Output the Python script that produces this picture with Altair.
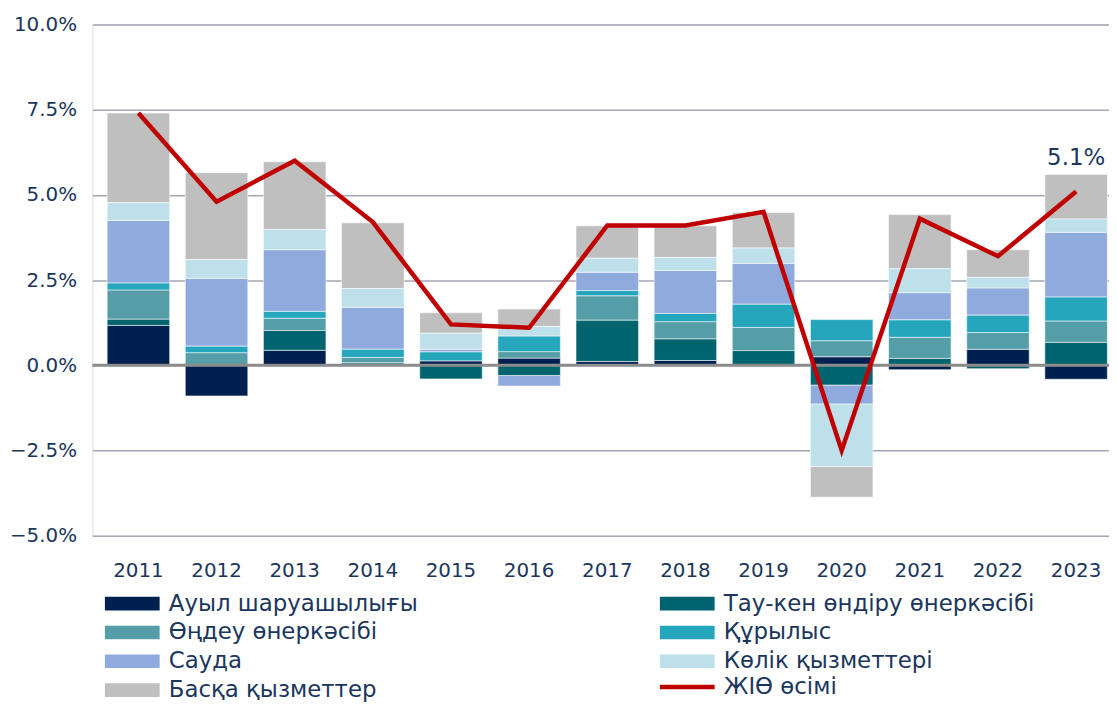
import altair as alt
import pandas as pd

years = [str(y) for y in range(2011, 2024)]
categories = [
    "Ауыл шаруашылығы",
    "Тау-кен өндіру өнеркәсібі",
    "Өңдеу өнеркәсібі",
    "Құрылыс",
    "Сауда",
    "Көлік қызметтері",
    "Басқа қызметтер",
]
colors = ["#00214F", "#00646F", "#559EA8", "#25A6BD", "#8FAADC", "#BEE0EA", "#BFBFBF"]

agri = [1.17, -0.90, 0.44, 0.03, 0.13, 0.21, 0.11, 0.14, 0.00, 0.25, -0.13, 0.47, -0.41]
mining = [0.18, 0.00, 0.58, 0.04, -0.40, -0.30, 1.21, 0.63, 0.43, -0.58, 0.20, -0.10, 0.67]
manuf = [0.86, 0.37, 0.36, 0.16, 0.00, 0.19, 0.72, 0.51, 0.68, 0.47, 0.62, 0.49, 0.63]
constr = [0.20, 0.19, 0.20, 0.24, 0.26, 0.46, 0.15, 0.24, 0.68, 0.62, 0.51, 0.51, 0.70]
trade = [1.84, 1.99, 1.81, 1.23, 0.08, -0.31, 0.54, 1.26, 1.20, -0.56, 0.80, 0.80, 1.90]
transport = [0.52, 0.55, 0.59, 0.55, 0.47, 0.28, 0.41, 0.38, 0.45, -1.83, 0.70, 0.31, 0.39]
other = [2.63, 2.55, 1.99, 1.93, 0.60, 0.51, 0.95, 0.93, 1.04, -0.90, 1.59, 0.81, 1.31]
gdp = [7.4, 4.8, 6.0, 4.2, 1.2, 1.1, 4.1, 4.1, 4.5, -2.5, 4.3, 3.2, 5.1]
gdp_label = "ЖІӨ өсімі"
annotated_year = "2023"
y_ticks = [-5, -2.5, 0, 2.5, 5, 7.5, 10]

series = [agri, mining, manuf, constr, trade, transport, other]
rows = []
for ci, (cat, vals) in enumerate(zip(categories, series)):
    for yr, v in zip(years, vals):
        if v != 0:
            rows.append({"year": yr, "cat": cat, "order": ci, "value": v})
df = pd.DataFrame(rows)
gdf = pd.DataFrame({"year": years, "gdp": gdp, "series": [gdp_label] * len(years)})

col1 = categories[0::2]
col2 = categories[1::2]
c1 = colors[0::2]
c2 = colors[1::2]

FONT = "DejaVu Sans"
NAVY = "#1B365D"
LFS = 23
LEG_Y = 572
ROW = 28

x = alt.X(
    "year:N",
    sort=years,
    scale=alt.Scale(paddingInner=0.2, paddingOuter=0.105, align=0.9),
    axis=alt.Axis(title=None, labelAngle=0, labelFont=FONT, labelFontSize=20,
                  labelColor=NAVY, labelPadding=25, ticks=False, domain=False, grid=False),
)
yscale = alt.Scale(domain=[-5, 10], nice=False, zero=False)
yaxis = alt.Axis(title=None, values=y_ticks, labelExpr="format(datum.value, '.1f') + '%'",
                 grid=True, gridColor="#A3A6B6", gridWidth=1.5, ticks=False, domain=False,
                 labelPadding=16, labelFont=FONT, labelFontSize=20, labelColor=NAVY)

BAR_SYM = "M-1,-1H7V1H-1Z"


def leg(lx, ly, **kw):
    return alt.Legend(title=None, orient="none", legendX=lx, legendY=ly, direction="vertical",
                      symbolSize=190, labelFont=FONT, labelFontSize=LFS, labelColor=NAVY,
                      labelOffset=46, rowPadding=5, padding=0, labelLimit=600, **kw)


base = alt.Chart(df).transform_stack(
    stack="value", groupby=["year"], as_=["y0", "y1"],
    sort=[alt.SortField("order", order="ascending")],
)

barsA = base.transform_filter(
    alt.FieldOneOfPredicate(field="cat", oneOf=col1)
).mark_bar(stroke="white", strokeWidth=0.8, strokeOpacity=0.7).encode(
    x=x,
    y=alt.Y("y0:Q", scale=yscale, axis=yaxis),
    y2="y1:Q",
    color=alt.Color("cat:N", scale=alt.Scale(domain=col1, range=c1),
                    legend=leg(8, LEG_Y, symbolType=BAR_SYM, symbolStrokeWidth=0, symbolOpacity=1)),
)

barsB = base.transform_filter(
    alt.FieldOneOfPredicate(field="cat", oneOf=col2)
).mark_bar(stroke="white", strokeWidth=0.8, strokeOpacity=0.7).encode(
    x=x,
    y=alt.Y("y0:Q", scale=yscale, axis=yaxis),
    y2="y1:Q",
    fill=alt.Fill("cat:N", scale=alt.Scale(domain=col2, range=c2),
                  legend=leg(567, LEG_Y, symbolType=BAR_SYM, symbolStrokeWidth=0, symbolOpacity=1)),
)

zero = alt.Chart(pd.DataFrame({"zero": [0]})).mark_rule(color="#8C8C8C", strokeWidth=3).encode(
    y=alt.Y("zero:Q", scale=yscale, axis=yaxis)
)

line = alt.Chart(gdf).mark_line(strokeWidth=4.5, strokeJoin="miter").encode(
    x=x,
    y=alt.Y("gdp:Q", scale=yscale, axis=yaxis),
    stroke=alt.Stroke("series:N", scale=alt.Scale(domain=[gdp_label], range=["#C00000"]),
                      legend=leg(567, LEG_Y + 3 * ROW, symbolType="M-1,0H7", symbolStrokeWidth=4.5,
                                 symbolFillColor="transparent")),
)

label = alt.Chart(gdf).transform_filter(
    alt.datum.year == annotated_year
).transform_calculate(
    txt="format(datum.gdp, '.1f') + '%'"
).mark_text(dy=-34, font=FONT, fontSize=23, color=NAVY).encode(
    x=x,
    y=alt.Y("gdp:Q", scale=yscale, axis=yaxis),
    text="txt:N",
)

chart = alt.layer(barsA, barsB, zero, line, label).properties(
    width=1024,
    height=515,
    autosize=alt.AutoSizeParams(type="none"),
    padding={"left": 85, "top": 14, "right": 0, "bottom": 167},
).configure_view(stroke=None).configure(background="white")

chart.save("out.html", embed_options={"renderer": "svg", "actions": False})
